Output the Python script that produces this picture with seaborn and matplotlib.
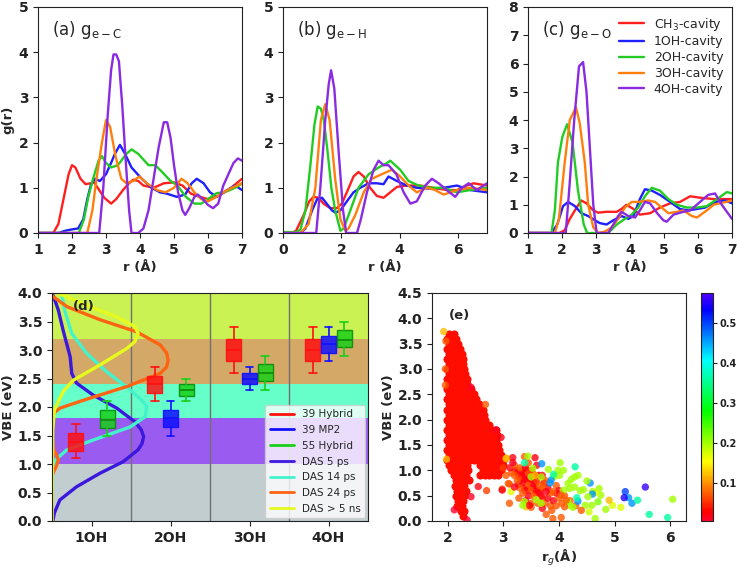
import numpy as np
import matplotlib
matplotlib.use("Agg")
import matplotlib.pyplot as plt
from matplotlib.colors import ListedColormap, Normalize, to_rgba
from matplotlib.cm import ScalarMappable
from matplotlib.lines import Line2D
import seaborn as sns

# ---------------- g(r) data, panel (a) e-C ----------------
a_r_ch3 = [1.0, 1.45, 1.6, 1.75, 1.9, 2.0, 2.1, 2.25, 2.4, 2.55, 2.65, 2.8, 2.95, 3.15, 3.3, 3.5, 3.65, 3.8, 3.95, 4.1, 4.4, 4.7, 5.0, 5.25, 5.5, 5.75, 6.0, 6.25, 6.6, 7.0]
a_g_ch3 = [0, 0, 0.2, 0.75, 1.3, 1.5, 1.45, 1.2, 1.08, 1.1, 1.12, 0.95, 0.78, 0.65, 0.75, 0.95, 1.08, 1.18, 1.15, 1.05, 1.0, 1.1, 1.12, 1.05, 0.87, 0.8, 0.75, 0.8, 0.95, 1.2]
a_r_1oh = [1.0, 1.6, 1.8, 2.0, 2.18, 2.33, 2.45, 2.55, 2.67, 2.82, 3.0, 3.15, 3.26, 3.41, 3.56, 3.75, 4.05, 4.34, 4.59, 4.79, 5.08, 5.33, 5.52, 5.67, 5.87, 6.06, 6.26, 6.56, 6.8, 7.0]
a_g_1oh = [0, 0, 0.05, 0.08, 0.1, 0.3, 0.75, 1.05, 1.2, 1.15, 1.3, 1.55, 1.75, 1.95, 1.75, 1.45, 1.2, 1.0, 0.9, 0.87, 0.8, 0.85, 1.1, 1.2, 1.1, 0.9, 0.8, 0.95, 1.05, 0.95]
a_r_2oh = [1.0, 2.2, 2.35, 2.48, 2.62, 2.78, 2.88, 3.0, 3.15, 3.35, 3.6, 3.75, 3.95, 4.25, 4.45, 4.65, 4.9, 5.1, 5.35, 5.6, 5.8, 6.0, 6.25, 6.45, 6.65, 6.85, 7.0]
a_g_2oh = [0, 0, 0.3, 0.8, 1.2, 1.6, 1.7, 1.55, 1.45, 1.5, 1.75, 1.85, 1.75, 1.5, 1.5, 1.35, 1.15, 1.05, 0.8, 0.65, 0.65, 0.75, 0.88, 0.9, 0.95, 1.02, 1.1]
a_r_3oh = [1.0, 2.45, 2.6, 2.72, 2.88, 3.0, 3.12, 3.28, 3.45, 3.6, 3.8, 3.98, 4.2, 4.5, 4.75, 5.0, 5.22, 5.4, 5.6, 5.8, 6.0, 6.2, 6.45, 6.7, 7.0]
a_g_3oh = [0, 0, 0.5, 1.2, 2.0, 2.5, 2.35, 1.7, 1.2, 1.1, 1.15, 1.25, 1.1, 0.95, 0.9, 1.0, 1.2, 1.1, 0.9, 0.75, 0.7, 0.78, 0.9, 1.0, 1.1]
a_r_4oh = [1.0, 2.8, 2.92, 3.05, 3.15, 3.22, 3.3, 3.38, 3.48, 3.58, 3.68, 3.75, 3.95, 4.1, 4.25, 4.4, 4.55, 4.7, 4.8, 4.9, 5.0, 5.12, 5.25, 5.33, 5.45, 5.6, 5.7, 5.85, 6.0, 6.15, 6.3, 6.45, 6.6, 6.75, 6.88, 7.0]
a_g_4oh = [0, 0, 1.0, 2.6, 3.6, 3.95, 3.95, 3.8, 2.8, 1.6, 0.5, 0, 0, 0.1, 0.5, 1.2, 1.9, 2.45, 2.45, 2.1, 1.5, 0.9, 0.5, 0.4, 0.55, 0.8, 0.85, 0.75, 0.62, 0.55, 0.65, 1.05, 1.3, 1.55, 1.65, 1.6]

# ---------------- panel (b) e-H ----------------
b_r_ch3 = [0, 0.3, 0.45, 0.71, 0.9, 1.05, 1.22, 1.39, 1.62, 1.85, 2.02, 2.19, 2.42, 2.59, 2.77, 2.99, 3.22, 3.45, 3.68, 3.91, 4.25, 4.71, 5.17, 5.62, 5.97, 6.31, 6.54, 7.0]
b_g_ch3 = [0, 0, 0.05, 0.4, 0.7, 0.8, 0.78, 0.65, 0.55, 0.55, 0.65, 0.9, 1.25, 1.35, 1.25, 1.0, 0.82, 0.78, 0.9, 1.02, 1.05, 1.05, 1.0, 0.95, 0.95, 1.05, 1.1, 1.05]
b_r_1oh = [0, 0.6, 0.77, 1.0, 1.17, 1.34, 1.5, 1.68, 1.8, 1.97, 2.19, 2.42, 2.65, 2.94, 3.22, 3.45, 3.62, 3.91, 4.25, 4.59, 5.05, 5.51, 5.97, 6.42, 7.0]
b_g_1oh = [0, 0, 0.1, 0.5, 0.75, 0.78, 0.65, 0.5, 0.45, 0.5, 0.7, 0.9, 1.0, 1.1, 1.1, 1.08, 1.25, 1.15, 1.05, 1.0, 0.98, 1.0, 1.05, 0.95, 0.9]
b_r_2oh = [0, 0.45, 0.6, 0.77, 0.94, 1.08, 1.19, 1.3, 1.4, 1.53, 1.66, 1.79, 1.97, 2.08, 2.31, 2.59, 2.94, 3.28, 3.57, 3.68, 4.02, 4.31, 4.65, 5.05, 5.51, 5.97, 6.42, 7.0]
b_g_2oh = [0.02, 0.02, 0.08, 0.5, 1.5, 2.4, 2.8, 2.75, 2.5, 1.8, 1.0, 0.5, 0.05, 0.1, 0.5, 1.0, 1.3, 1.45, 1.55, 1.6, 1.4, 1.15, 1.05, 1.0, 1.0, 0.9, 0.95, 1.0]
b_r_3oh = [0, 0.6, 0.88, 1.11, 1.3, 1.45, 1.6, 1.79, 1.97, 2.14, 2.25, 2.48, 2.77, 3.05, 3.39, 3.74, 4.02, 4.31, 4.59, 4.94, 5.22, 5.51, 5.97, 6.42, 7.0]
b_g_3oh = [0, 0, 0.2, 1.0, 2.5, 2.85, 2.5, 1.2, 0.3, 0.05, 0.1, 0.4, 0.9, 1.2, 1.3, 1.4, 1.25, 1.05, 0.9, 1.0, 0.95, 0.85, 0.95, 1.0, 0.95]
b_r_4oh = [0, 1.14, 1.28, 1.45, 1.57, 1.65, 1.76, 1.91, 2.06, 2.17, 2.54, 2.67, 2.88, 3.11, 3.28, 3.45, 3.62, 3.89, 4.14, 4.37, 4.59, 4.88, 5.11, 5.34, 5.62, 5.91, 6.14, 6.37, 6.65, 7.0]
b_g_4oh = [0, 0, 1.0, 2.5, 3.3, 3.6, 3.2, 1.8, 0.5, 0, 0, 0.3, 0.9, 1.4, 1.6, 1.5, 1.5, 1.3, 0.9, 0.65, 0.7, 1.05, 1.2, 1.1, 0.95, 0.8, 1.0, 1.1, 0.95, 1.1]

# ---------------- panel (c) e-O ----------------
c_r_ch3 = [1.0, 1.93, 2.08, 2.23, 2.43, 2.57, 2.72, 2.92, 3.06, 3.31, 3.61, 3.75, 3.9, 4.1, 4.29, 4.59, 4.88, 5.18, 5.47, 5.77, 6.06, 6.46, 7.0]
c_g_ch3 = [0, 0, 0.1, 0.5, 0.9, 1.15, 1.05, 0.8, 0.72, 0.75, 0.75, 0.85, 1.0, 0.85, 0.65, 0.7, 0.9, 1.05, 1.1, 1.3, 1.25, 1.2, 1.2]
c_r_1oh = [1.0, 1.69, 1.86, 2.03, 2.18, 2.38, 2.57, 2.77, 2.97, 3.11, 3.31, 3.51, 3.75, 3.95, 4.1, 4.29, 4.44, 4.64, 4.88, 5.18, 5.47, 5.72, 5.97, 6.21, 6.51, 6.8, 7.0]
c_g_1oh = [0, 0, 0.3, 0.95, 1.1, 0.95, 0.7, 0.6, 0.45, 0.35, 0.3, 0.45, 0.6, 0.5, 0.6, 1.2, 1.55, 1.5, 1.35, 1.1, 0.85, 0.8, 0.85, 0.9, 1.1, 1.15, 1.05]
c_r_2oh = [1.0, 1.69, 1.79, 1.88, 2.01, 2.15, 2.31, 2.47, 2.64, 2.74, 3.36, 3.61, 3.85, 4.05, 4.24, 4.44, 4.64, 4.88, 5.13, 5.38, 5.67, 5.97, 6.26, 6.56, 6.85, 7.0]
c_g_2oh = [0, 0, 0.8, 2.5, 3.4, 3.85, 3.2, 1.5, 0.3, 0, 0, 0.3, 0.5, 0.65, 0.9, 1.3, 1.6, 1.5, 1.2, 1.0, 0.9, 0.9, 0.95, 1.2, 1.45, 1.4]
c_r_3oh = [1.0, 1.79, 1.91, 2.08, 2.23, 2.41, 2.52, 2.67, 2.77, 2.92, 3.06, 3.26, 3.46, 3.65, 3.85, 4.05, 4.24, 4.54, 4.74, 4.93, 5.13, 5.38, 5.57, 5.82, 5.97, 6.26, 6.46, 7.0]
c_g_3oh = [0, 0, 0.5, 2.5, 4.0, 4.45, 3.9, 2.5, 1.0, 0.2, 0, 0.05, 0.2, 0.5, 0.9, 1.1, 1.1, 1.15, 1.1, 0.9, 0.7, 0.75, 0.8, 0.6, 0.55, 0.8, 1.0, 1.15]
c_r_4oh = [1.0, 2.11, 2.21, 2.36, 2.5, 2.62, 2.72, 2.82, 2.92, 3.02, 3.36, 3.51, 3.65, 3.75, 3.95, 4.15, 4.29, 4.44, 4.59, 4.8, 4.98, 5.08, 5.28, 5.57, 5.77, 6.06, 6.3, 6.5, 6.7, 7.0]
c_g_4oh = [0, 0, 1.5, 4.0, 5.9, 6.05, 5.0, 3.0, 1.0, 0, 0, 0.3, 0.6, 0.75, 0.6, 0.55, 0.8, 1.1, 1.05, 0.7, 0.45, 0.4, 0.65, 0.75, 0.8, 1.1, 1.35, 1.4, 1.0, 0.5]

cavity_labels = ["CH$_3$-cavity", "1OH-cavity", "2OH-cavity", "3OH-cavity", "4OH-cavity"]
cavity_colors = ["#ff1f1f", "#1f1fff", "#22cc22", "#ff7f0e", "#8a2be2"]

# ---------------- panel (d) VBE box data ----------------
groups = ["1OH", "2OH", "3OH", "4OH"]
hyb39_lo = [1.1, 2.1, 2.6, 2.6]
hyb39_q1 = [1.22, 2.25, 2.8, 2.8]
hyb39_med = [1.38, 2.4, 3.0, 3.0]
hyb39_q3 = [1.55, 2.55, 3.2, 3.2]
hyb39_hi = [1.7, 2.7, 3.4, 3.4]
mp2_groups = ["2OH", "3OH", "4OH"]
mp2_lo = [1.5, 2.3, 2.8]
mp2_q1 = [1.65, 2.4, 2.95]
mp2_med = [1.8, 2.5, 3.1]
mp2_q3 = [1.95, 2.6, 3.25]
mp2_hi = [2.1, 2.7, 3.4]
hyb55_lo = [1.5, 2.1, 2.3, 2.9]
hyb55_q1 = [1.63, 2.2, 2.45, 3.05]
hyb55_med = [1.78, 2.3, 2.6, 3.18]
hyb55_q3 = [1.95, 2.4, 2.75, 3.35]
hyb55_hi = [2.1, 2.5, 2.9, 3.5]

# DAS spectra drawn sideways (amplitude along x, energy along y)
das5_vbe = [4.0, 3.9, 3.7, 3.35, 2.88, 2.59, 2.42, 2.21, 1.98, 1.74, 1.6, 1.48, 1.36, 1.25, 1.04, 0.84, 0.6, 0.37, 0.14, 0.0]
das5_amp = [0.5, 0.53, 0.58, 0.64, 0.73, 0.75, 0.81, 1.02, 1.32, 1.55, 1.63, 1.66, 1.64, 1.59, 1.40, 1.11, 0.81, 0.60, 0.53, 0.51]
das14_vbe = [4.0, 3.7, 3.29, 2.94, 2.62, 2.30, 2.10, 2.01, 1.83, 1.65, 1.42, 1.25, 1.07, 0.95, 0.0]
das14_amp = [0.62, 0.66, 0.75, 0.94, 1.19, 1.49, 1.65, 1.70, 1.68, 1.49, 1.02, 0.69, 0.54, 0.51, 0.5]
das24_vbe = [3.95, 3.76, 3.53, 3.32, 3.09, 2.95, 2.82, 2.70, 2.59, 2.36, 2.12, 1.98, 1.89, 1.5, 1.25, 1.15, 1.07, 0.98, 0.89, 0.8, 0.0]
das24_amp = [0.5, 0.69, 1.11, 1.57, 1.87, 1.95, 1.97, 1.95, 1.87, 1.45, 0.90, 0.60, 0.52, 0.5, 0.52, 0.56, 0.58, 0.56, 0.53, 0.5, 0.5]
das5ns_vbe = [4.0, 3.76, 3.58, 3.41, 3.29, 3.15, 3.03, 2.74, 2.47, 2.27, 1.95, 1.6, 0.0]
das5ns_amp = [0.57, 0.98, 1.32, 1.55, 1.59, 1.55, 1.45, 1.11, 0.77, 0.64, 0.53, 0.51, 0.5]

band_edges = [0.0, 1.0, 1.8, 2.4, 3.2, 4.0]
band_colors = ["#c2cdd0", "#9a5cf0", "#66ffca", "#d4a867", "#cbf253"]

# ---------------- panel (e) VBE vs radius of gyration ----------------
core_vbe = [3.70, 3.60, 3.50, 3.40, 3.30, 3.20, 3.10, 3.00, 2.90, 2.80, 2.70, 2.60, 2.50, 2.40,
            2.30, 2.20, 2.10, 2.00, 1.90, 1.80, 1.70, 1.60, 1.50, 1.40, 1.30, 1.20, 1.10, 1.00,
            0.90, 0.80, 0.70, 0.60, 0.50, 0.40, 0.30, 0.20, 0.10]
core_rg = [
    [2.03, 2.11],
    [1.99, 2.07, 2.15],
    [2.03, 2.11, 2.19],
    [1.99, 2.07, 2.15, 2.22],
    [2.03, 2.11, 2.19, 2.25],
    [1.99, 2.07, 2.15, 2.23, 2.27],
    [2.03, 2.11, 2.19, 2.27],
    [1.99, 2.07, 2.15, 2.23, 2.30],
    [2.03, 2.11, 2.19, 2.27, 2.32],
    [1.99, 2.07, 2.15, 2.23, 2.31, 2.35],
    [2.03, 2.11, 2.19, 2.27, 2.35],
    [1.99, 2.07, 2.15, 2.23, 2.31, 2.39, 2.42],
    [2.03, 2.11, 2.19, 2.27, 2.35, 2.43, 2.47],
    [1.99, 2.07, 2.15, 2.23, 2.31, 2.39, 2.47, 2.51],
    [2.03, 2.11, 2.19, 2.27, 2.35, 2.43, 2.51, 2.57],
    [1.99, 2.07, 2.15, 2.23, 2.31, 2.39, 2.47, 2.55, 2.63],
    [2.03, 2.11, 2.19, 2.27, 2.35, 2.43, 2.51, 2.59, 2.65],
    [1.99, 2.07, 2.15, 2.23, 2.31, 2.39, 2.47, 2.55, 2.63, 2.68],
    [2.03, 2.11, 2.19, 2.27, 2.35, 2.43, 2.51, 2.59, 2.67, 2.75],
    [1.99, 2.07, 2.15, 2.23, 2.31, 2.39, 2.47, 2.55, 2.63, 2.71, 2.79, 2.86],
    [2.03, 2.11, 2.19, 2.27, 2.35, 2.43, 2.51, 2.59, 2.67, 2.75, 2.83, 2.88],
    [1.99, 2.07, 2.15, 2.23, 2.31, 2.39, 2.47, 2.55, 2.63, 2.71, 2.79, 2.87],
    [2.03, 2.11, 2.19, 2.27, 2.35, 2.43, 2.51, 2.59, 2.67, 2.75, 2.83, 2.91],
    [1.99, 2.07, 2.15, 2.23, 2.31, 2.39, 2.47, 2.55, 2.63, 2.71, 2.79, 2.87, 2.93],
    [2.03, 2.11, 2.19, 2.27, 2.35, 2.43, 2.51, 2.59, 2.67, 2.75, 2.83, 2.91, 2.96],
    [1.99, 2.07, 2.15, 2.23, 2.31, 2.39, 2.47, 2.55, 2.63, 2.71, 2.79, 2.87, 2.95, 3.00],
    [2.03, 2.11, 2.19, 2.27, 2.35, 2.59, 2.67, 2.75, 2.83, 2.91, 2.99],
    [2.07, 2.15, 2.23, 2.31, 2.37, 2.63, 2.71, 2.79, 2.87, 2.95],
    [2.11, 2.19, 2.27, 2.33, 2.59, 2.67, 2.75, 2.83, 2.90],
    [2.15, 2.23, 2.31, 2.39],
    [2.13, 2.21, 2.29],
    [2.17, 2.25, 2.33],
    [2.15, 2.23, 2.30],
    [2.19, 2.27],
    [2.17, 2.25],
    [2.24, 2.30],
    [2.28],
]
core_ipr = 0.035

blob_rg = [3.22, 3.28, 3.33, 3.38, 3.43, 3.48, 3.53, 3.58, 3.63, 3.38, 3.48, 3.58, 3.42, 3.52, 3.27, 3.33, 3.47, 3.57, 3.67, 3.73]
blob_vbe = [1.00, 0.90, 1.00, 0.90, 0.80, 0.90, 0.85, 0.75, 0.90, 0.65, 0.65, 0.55, 1.00, 0.95, 0.72, 0.82, 0.77, 0.63, 0.62, 0.75]
blob_ipr = [0.02, 0.02, 0.07, 0.02, 0.02, 0.02, 0.07, 0.02, 0.02, 0.02, 0.02, 0.07, 0.02, 0.02, 0.02, 0.02, 0.06, 0.02, 0.07, 0.02]

tail_rg = [1.93, 1.97, 1.96, 1.96, 2.42, 2.68, 2.87, 2.35, 1.98, 2.55, 2.70, 2.98, 3.06, 3.09, 2.42, 2.12, 2.96, 3.00,
           3.25, 3.30, 3.35, 3.40, 3.45, 3.50, 3.55, 3.30, 3.40, 3.50, 3.35, 3.45, 3.55, 3.60, 3.25, 3.20, 3.40, 3.50,
           3.60, 3.65, 3.30, 3.45, 3.55, 3.65, 3.70, 3.75, 3.80, 3.85, 3.90, 3.95, 4.00, 3.95, 4.05, 4.10, 3.35, 3.70,
           3.62, 3.28, 3.15, 3.12, 3.20, 3.05, 3.60, 3.45, 3.70, 3.75, 3.80, 3.85, 3.95, 4.00, 4.20, 4.30, 3.40, 3.50,
           5.55, 5.19, 5.25, 5.17, 5.31, 5.41, 6.04, 5.62, 5.95, 5.11, 4.96, 4.84, 4.65, 4.54, 4.90, 4.72, 4.75, 4.66,
           4.70, 4.56, 4.50, 4.60, 4.60, 4.44, 4.52, 4.38, 4.34, 4.32, 4.47, 4.59, 4.40, 4.28, 4.34, 4.22, 4.16, 4.29,
           4.02, 4.08, 3.98, 3.92, 4.01, 4.19, 4.08, 4.28, 4.19, 4.16, 4.25, 4.10, 4.13, 4.04, 3.89, 3.86, 3.84, 3.90,
           3.81, 3.89, 4.04, 3.77, 3.87, 3.69, 3.57, 3.38, 3.44, 3.38, 3.17, 3.17, 3.05, 3.53, 3.68, 3.50, 3.57, 3.71,
           3.77, 3.68, 3.59, 3.68, 3.50, 3.38, 3.41, 3.47, 3.35, 3.11, 3.14, 3.11, 3.20, 2.98]
tail_vbe = [3.74, 3.55, 3.00, 2.68, 2.64, 2.30, 1.80, 0.02, 1.22, 0.68, 0.60, 0.63, 1.24, 0.74, 0.48, 0.22, 1.65, 1.05,
            0.95, 0.85, 0.95, 0.85, 0.95, 0.80, 0.90, 1.05, 1.05, 1.00, 0.75, 0.70, 0.70, 0.80, 0.80, 0.90, 0.60, 0.60,
            0.60, 0.70, 0.65, 0.50, 0.48, 0.55, 0.45, 0.35, 0.45, 0.30, 0.40, 0.30, 0.45, 0.55, 0.35, 0.50, 0.55, 0.25,
            0.35, 0.45, 0.95, 1.05, 1.10, 0.90, 1.10, 1.15, 0.90, 0.80, 0.65, 0.55, 0.70, 0.60, 0.40, 0.30, 0.40, 0.35,
            0.67, 0.58, 0.46, 0.46, 0.35, 0.41, 0.43, 0.13, 0.07, 0.27, 0.31, 0.23, 0.05, 0.18, 0.41, 0.64, 0.51, 0.56,
            0.38, 0.75, 0.79, 0.58, 0.53, 0.62, 0.48, 0.60, 0.39, 0.46, 0.31, 0.31, 0.21, 0.87, 0.90, 0.82, 0.74, 1.07,
            1.15, 1.00, 1.00, 0.88, 0.90, 0.64, 0.61, 0.67, 0.31, 0.38, 0.27, 0.28, 0.41, 0.51, 0.58, 0.81, 0.75, 0.92,
            1.02, 0.05, 0.07, 0.13, 0.21, 1.13, 1.25, 1.27, 1.28, 1.15, 1.15, 1.25, 1.23, 1.04, 0.87, 0.87, 0.90, 0.67,
            0.58, 0.49, 0.42, 0.35, 0.27, 0.38, 0.28, 0.31, 0.31, 0.35, 0.58, 0.73, 0.67, 0.61]
tail_ipr = [0.12, 0.07, 0.07, 0.07, 0.005, 0.07, 0.005, 0.005, 0.12, 0.02, 0.06, 0.07, 0.12, 0.07, 0.01, 0.005, 0.02, 0.06,
            0.02, 0.06, 0.02, 0.02, 0.07, 0.02, 0.02, 0.07, 0.02, 0.06, 0.02, 0.07, 0.02, 0.06, 0.07, 0.07, 0.02, 0.07,
            0.02, 0.07, 0.07, 0.02, 0.07, 0.02, 0.07, 0.07, 0.02, 0.07, 0.02, 0.07, 0.07, 0.02, 0.07, 0.07, 0.07, 0.02,
            0.07, 0.07, 0.07, 0.02, 0.07, 0.07, 0.02, 0.07, 0.02, 0.07, 0.02, 0.07, 0.07, 0.02, 0.07, 0.07, 0.02, 0.07,
            0.56, 0.50, 0.46, 0.55, 0.46, 0.36, 0.20, 0.36, 0.36, 0.17, 0.17, 0.20, 0.20, 0.18, 0.12, 0.20, 0.20, 0.17,
            0.22, 0.46, 0.20, 0.20, 0.46, 0.20, 0.20, 0.20, 0.46, 0.36, 0.20, 0.20, 0.07, 0.20, 0.20, 0.20, 0.20, 0.36,
            0.20, 0.20, 0.20, 0.20, 0.20, 0.20, 0.20, 0.20, 0.20, 0.20, 0.20, 0.07, 0.07, 0.07, 0.07, 0.46, 0.46, 0.36,
            0.20, 0.07, 0.07, 0.07, 0.07, 0.46, 0.02, 0.07, 0.20, 0.36, 0.005, 0.02, 0.12, 0.20, 0.20, 0.20, 0.12, 0.07,
            0.02, 0.02, 0.20, 0.20, 0.07, 0.20, 0.12, 0.02, 0.20, 0.07, 0.17, 0.07, 0.02, 0.02]

# ---------------- style ----------------
sns.set_style("ticks")
plt.rcParams["font.family"] = ["DejaVu Sans"]
plt.rcParams["mathtext.fontset"] = "dejavusans"
plt.rcParams["axes.edgecolor"] = "#222222"
plt.rcParams["xtick.color"] = "#222222"
plt.rcParams["ytick.color"] = "#222222"
TICK = dict(labelsize=10)
LAB = dict(fontsize=9.5, fontweight="bold")

W, H = 738, 568
fig = plt.figure(figsize=(W / 100, H / 100), dpi=100)


def px_axes(left, top, right, bottom):
    return fig.add_axes([left / W, 1 - bottom / H, (right - left) / W, (bottom - top) / H])


def bold_ticks(ax):
    for t in ax.get_xticklabels() + ax.get_yticklabels():
        t.set_fontweight("bold")


# ---------------- top row: g(r) ----------------
panels = [
    (px_axes(38, 7, 242, 233), "(a) g$_{\\mathrm{e-C}}$", (1, 7), (0, 5), range(1, 8), range(0, 6),
     [(a_r_ch3, a_g_ch3), (a_r_1oh, a_g_1oh), (a_r_2oh, a_g_2oh), (a_r_3oh, a_g_3oh), (a_r_4oh, a_g_4oh)]),
    (px_axes(283, 7, 487, 233), "(b) g$_{\\mathrm{e-H}}$", (0, 7), (0, 5), [0, 2, 4, 6], range(0, 6),
     [(b_r_ch3, b_g_ch3), (b_r_1oh, b_g_1oh), (b_r_2oh, b_g_2oh), (b_r_3oh, b_g_3oh), (b_r_4oh, b_g_4oh)]),
    (px_axes(528, 7, 732, 233), "(c) g$_{\\mathrm{e-O}}$", (1, 7), (0, 8), range(1, 8), range(0, 9),
     [(c_r_ch3, c_g_ch3), (c_r_1oh, c_g_1oh), (c_r_2oh, c_g_2oh), (c_r_3oh, c_g_3oh), (c_r_4oh, c_g_4oh)]),
]
for i, (ax, title, xl, yl, xt, yt, curves) in enumerate(panels):
    for (r, g), lab, col in zip(curves, cavity_labels, cavity_colors):
        sns.lineplot(x=r, y=g, ax=ax, color=col, lw=1.7, sort=False, estimator=None,
                     label=lab if i == 2 else None, legend=False)
    ax.set_xlim(*xl)
    ax.set_ylim(*yl)
    ax.set_xticks(list(xt))
    ax.set_yticks(list(yt))
    ax.set_xlabel("r (Å)", labelpad=3, **LAB)
    ax.text(0.07, 0.9, title, transform=ax.transAxes, fontsize=12, va="center")
    ax.tick_params(**TICK)
    bold_ticks(ax)
    if i == 0:
        ax.set_ylabel("g(r)", labelpad=3, **LAB)
    if i == 2:
        ax.legend(loc="upper right", frameon=False, fontsize=9, labelspacing=0.22,
                  handlelength=2.0, borderaxespad=0.3)

# ---------------- panel (d) ----------------
axd = px_axes(52, 293, 368, 521)
for lo, hi, col in zip(band_edges[:-1], band_edges[1:], band_colors):
    axd.axhspan(lo, hi, color=col, lw=0, zorder=0)
for xv in [1.5, 2.5, 3.5]:
    axd.axvline(xv, color="#707070", lw=1.0, zorder=1)

das_sets = [(das5_amp, das5_vbe, "#3b18dc", "DAS 5 ps"),
            (das14_amp, das14_vbe, "#44f2cc", "DAS 14 ps"),
            (das24_amp, das24_vbe, "#ff6412", "DAS 24 ps"),
            (das5ns_amp, das5ns_vbe, "#e6fa1e", "DAS > 5 ns")]
for amp, vbe, col, lab in das_sets:
    axd.plot(amp, vbe, color=col, lw=2.4, zorder=2)


def draw_boxes(ax, names, lo, q1, med, q3, hi, offset, col, medcol):
    pos = [groups.index(n) + 1 + offset for n in names]
    stats = [dict(whislo=a, q1=b, med=c, q3=d, whishi=e, fliers=[])
             for a, b, c, d, e in zip(lo, q1, med, q3, hi)]
    ax.bxp(stats, positions=pos, widths=0.19, patch_artist=True, showfliers=False,
           capwidths=0.1, manage_ticks=False, zorder=3,
           boxprops=dict(facecolor=to_rgba(col, 0.85), edgecolor=to_rgba(medcol, 0.9), lw=1.0),
           whiskerprops=dict(color=col, lw=1.2), capprops=dict(color=col, lw=1.2),
           medianprops=dict(color=medcol, lw=1.2))


draw_boxes(axd, groups, hyb39_lo, hyb39_q1, hyb39_med, hyb39_q3, hyb39_hi, -0.2, "#ff1010", "#ff1010")
draw_boxes(axd, mp2_groups, mp2_lo, mp2_q1, mp2_med, mp2_q3, mp2_hi, 0.0, "#1010ff", "#1010ff")
draw_boxes(axd, groups, hyb55_lo, hyb55_q1, hyb55_med, hyb55_q3, hyb55_hi, 0.2, "#18d018", "#0c8a0c")

axd.set_xlim(0.5, 4.5)
axd.set_ylim(0, 4.0)
axd.set_xticks([1, 2, 3, 4])
axd.set_xticklabels(groups)
axd.set_yticks(np.arange(0, 4.01, 0.5))
axd.set_yticklabels([f"{v:.1f}" for v in np.arange(0, 4.01, 0.5)])
axd.tick_params(**TICK)
bold_ticks(axd)
axd.set_ylabel("VBE (eV)", labelpad=2, **LAB)
axd.text(0.77, 3.77, "(d)", fontsize=9.5, fontweight="bold", va="center", zorder=5)
handles = [Line2D([], [], color="#ff1010", lw=2, label="39 Hybrid"),
           Line2D([], [], color="#1010ff", lw=2, label="39 MP2"),
           Line2D([], [], color="#18d018", lw=2, label="55 Hybrid")]
handles += [Line2D([], [], color=c, lw=2, label=l) for _, _, c, l in das_sets]
leg = axd.legend(handles=handles, loc="lower right", fontsize=7.5, labelspacing=0.55,
                 handlelength=2.3, framealpha=0.8, borderaxespad=0.3)
leg.set_zorder(6)

# ---------------- panel (e) ----------------
axe = px_axes(432, 293, 686, 521)
cmap = ListedColormap(plt.cm.gist_rainbow(np.linspace(0, 0.83, 256)))
norm = Normalize(vmin=0.005, vmax=0.575)
core_x = [x for row in core_rg for x in row]
core_y = [v for v, row in zip(core_vbe, core_rg) for _ in row]
sns.scatterplot(x=core_x, y=core_y, color=cmap(norm(core_ipr)), s=34, alpha=1.0,
                linewidth=0, ax=axe, legend=False)
sns.scatterplot(x=blob_rg, y=blob_vbe, hue=blob_ipr, palette=cmap, hue_norm=norm, s=28,
                alpha=0.85, linewidth=0, ax=axe, legend=False)
sns.scatterplot(x=tail_rg, y=tail_vbe, hue=tail_ipr, palette=cmap, hue_norm=norm, s=28,
                alpha=0.8, linewidth=0, ax=axe, legend=False)
axe.set_xlim(1.72, 6.28)
axe.set_ylim(0, 4.5)
axe.set_yticks(np.arange(0, 4.51, 0.5))
axe.set_yticklabels([f"{v:.1f}" for v in np.arange(0, 4.51, 0.5)])
axe.set_xticks([2, 3, 4, 5, 6])
axe.tick_params(**TICK)
bold_ticks(axe)
axe.set_xlabel("r$_g$(Å)", labelpad=2, **LAB)
axe.set_ylabel("VBE (eV)", labelpad=2, **LAB)
axe.text(0.065, 0.9, "(e)", transform=axe.transAxes, fontsize=9.5, fontweight="bold", va="center")

cax = px_axes(701, 293, 713, 521)
cb = fig.colorbar(ScalarMappable(norm=norm, cmap=cmap), cax=cax)
cb.set_ticks([0.1, 0.2, 0.3, 0.4, 0.5])
cb.ax.tick_params(labelsize=7, length=3, pad=2)
for t in cb.ax.get_yticklabels():
    t.set_fontweight("bold")

fig.savefig("out.png", dpi=100)
